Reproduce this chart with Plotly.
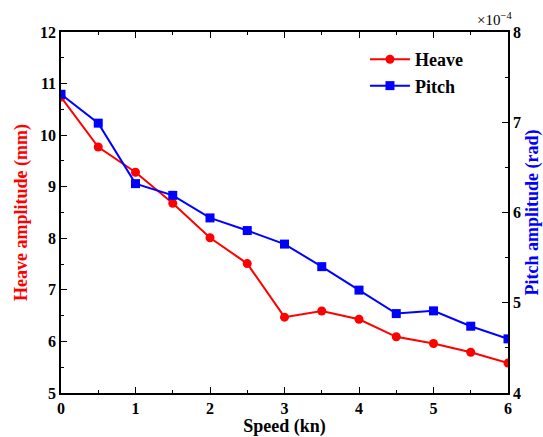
import plotly.graph_objects as go

speed = [0, 0.5, 1, 1.5, 2, 2.5, 3, 3.5, 4, 4.5, 5, 5.5, 6]
heave_mm = [10.74, 9.77, 9.28, 8.68, 8.01, 7.51, 6.47, 6.59, 6.43, 6.09, 5.96, 5.79, 5.58]
pitch_e4 = [7.31, 6.99, 6.32, 6.19, 5.94, 5.80, 5.65, 5.40, 5.14, 4.88, 4.91, 4.74, 4.60]

FONT = "Liberation Serif, Times New Roman, serif"

fig = go.Figure()
fig.add_trace(go.Scatter(
    x=speed, y=heave_mm, name="Heave", mode="lines+markers",
    line=dict(color="#ff0000", width=2),
    marker=dict(symbol="circle", size=9, color="#ff0000"),
    yaxis="y"))
fig.add_trace(go.Scatter(
    x=speed, y=pitch_e4, name="Pitch", mode="lines+markers",
    line=dict(color="#0000ff", width=2),
    marker=dict(symbol="square", size=9, color="#0000ff"),
    yaxis="y2"))

axis_common = dict(
    showgrid=False, zeroline=False, showline=True, linecolor="black", linewidth=1.5,
    ticks="inside", ticklen=6, tickwidth=1.2, tickcolor="black", automargin=False,
    tickfont=dict(family=FONT, size=16, color="black", weight="bold"),
)

fig.update_layout(
    width=543, height=437,
    margin=dict(l=61, r=35, t=32, b=44),
    plot_bgcolor="white", paper_bgcolor="white",
    font=dict(family=FONT, color="black"),
    xaxis=dict(
        range=[0, 6], dtick=1, mirror="ticks",
        minor=dict(dtick=0.5, ticks="inside", ticklen=3, tickcolor="black"),
        title=dict(text="Speed (kn)", font=dict(family=FONT, size=18, weight="bold"), standoff=2),
        **axis_common),
    yaxis=dict(
        range=[5, 12], dtick=1,
        minor=dict(dtick=0.5, ticks="inside", ticklen=3, tickcolor="black"),
        title=dict(text="Heave amplitude (mm)", font=dict(family=FONT, size=18, color="#ff0000", weight="bold"), standoff=8),
        **axis_common),
    yaxis2=dict(
        range=[4, 8], dtick=1, overlaying="y", side="right",
        minor=dict(dtick=0.5, ticks="inside", ticklen=3, tickcolor="black"),
        title=dict(text="Pitch amplitude (rad)", font=dict(family=FONT, size=18, color="#0000ff", weight="bold"), standoff=6),
        **axis_common),
    legend=dict(
        x=0.68, y=0.975, xanchor="left", yanchor="top",
        bgcolor="rgba(0,0,0,0)", font=dict(family=FONT, size=18, color="black", weight="bold"),
        tracegroupgap=0, itemwidth=40),
    showlegend=True,
)

fig.add_annotation(
    x=1.0, y=1.0, xref="paper", yref="paper", xanchor="right", yanchor="bottom",
    text="×10<sup>−4</sup>", showarrow=False, xshift=6, yshift=2,
    font=dict(family=FONT, size=15, color="black"))

fig.write_html("out.html")
